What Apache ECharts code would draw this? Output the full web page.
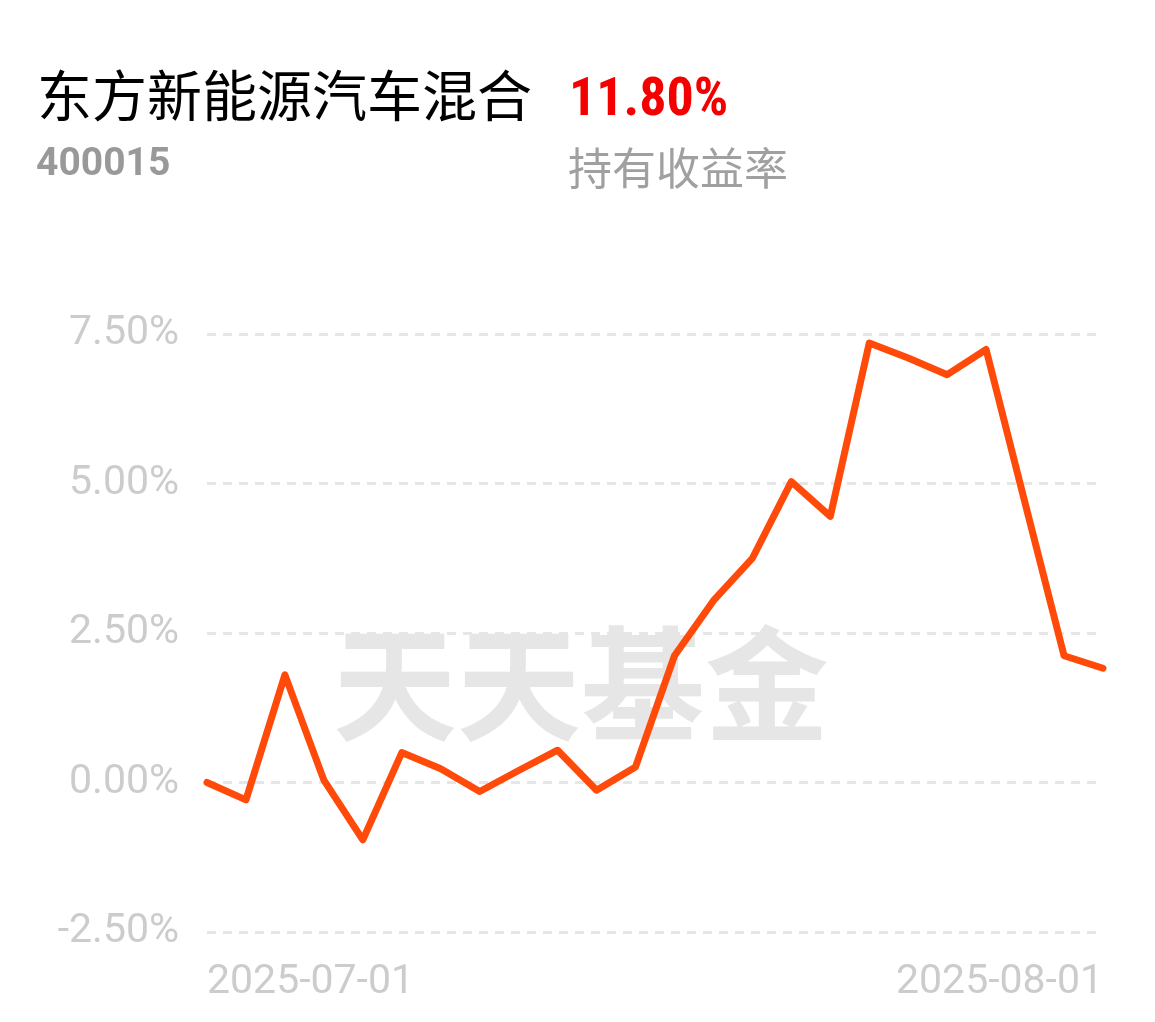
<!DOCTYPE html>
<html>
<head>
<meta charset="utf-8">
<style>
html,body{margin:0;padding:0;background:#fff;}
#chart{width:1155px;height:1022px;}
</style>
<script src="https://cdn.jsdelivr.net/npm/echarts@6/dist/echarts.min.js"></script>
</head>
<body>
<div id="chart"></div>
<script>
const fundName = '东方新能源汽车混合';
const fundCode = '400015';
const holdReturn = '11.80%';
const returnLabel = '持有收益率';
const watermark = '天天基金';

const dates = ['2025-07-01','2025-07-02','2025-07-03','2025-07-04','2025-07-07','2025-07-08','2025-07-09','2025-07-10','2025-07-11','2025-07-14','2025-07-15','2025-07-16','2025-07-17','2025-07-18','2025-07-21','2025-07-22','2025-07-23','2025-07-24','2025-07-25','2025-07-28','2025-07-29','2025-07-30','2025-07-31','2025-08-01'];
const returns = [0.00,-0.29,1.80,0.04,-0.96,0.50,0.23,-0.15,0.20,0.54,-0.13,0.26,2.12,3.04,3.75,5.03,4.45,7.35,7.10,6.82,7.24,4.67,2.12,1.91];

const yTicks = { min: -2.5, max: 7.5, interval: 2.5 };

const chart = echarts.init(document.getElementById('chart'), null, {renderer:'canvas'});
const labelColor = '#cccccc';
const option = {
  backgroundColor: '#ffffff',
  animation: false,
  grid: { left: 207, right: 52, top: 334, bottom: 90, containLabel: false },
  xAxis: {
    type: 'category',
    data: dates,
    boundaryGap: false,
    axisLine: { show: false },
    axisTick: { show: false },
    splitLine: { show: false },
    axisLabel: {
      interval: function (i) { return i === 0 || i === dates.length - 1; },
      color: labelColor,
      fontSize: 41,
      fontFamily: 'Roboto',
      margin: 30,
      alignMinLabel: 'left',
      alignMaxLabel: 'right'
    }
  },
  yAxis: {
    type: 'value',
    min: yTicks.min,
    max: yTicks.max,
    interval: yTicks.interval,
    axisLine: { show: false },
    axisTick: { show: false },
    axisLabel: {
      color: labelColor,
      fontSize: 41,
      fontFamily: 'Roboto',
      margin: 28,
      formatter: function (v) { return v.toFixed(2) + '%'; }
    },
    splitLine: { show: true, lineStyle: { color: '#e6e6e6', width: 3, type: [9, 7] } }
  },
  graphic: [
    { type: 'text', left: 37, top: 68, style: { text: fundName, font: '55px "Noto Sans CJK SC"', fill: '#000000' } },
    { type: 'text', left: 569, top: 74, style: { text: holdReturn, font: 'bold 54px "Liberation Sans Narrow", "Roboto Condensed", Roboto', fill: '#f50000' } },
    { type: 'text', left: 36, top: 146, style: { text: fundCode, font: 'bold 39px Roboto', fill: '#999999' } },
    { type: 'text', left: 568, top: 146, style: { text: returnLabel, font: '44px "Noto Sans CJK SC"', fill: '#a0a0a0' } },
    { type: 'text', left: 333, top: 622, z: -10, style: { text: watermark, font: 'bold 124px "Noto Sans CJK SC"', fill: '#e6e6e6' } }
  ],
  series: [{
    type: 'line',
    data: returns,
    showSymbol: false,
    symbol: 'none',
    z: 5,
    lineStyle: { color: '#ff4a0a', width: 7, cap: 'round', join: 'round' }
  }]
};
chart.setOption(option);
</script>
</body>
</html>
